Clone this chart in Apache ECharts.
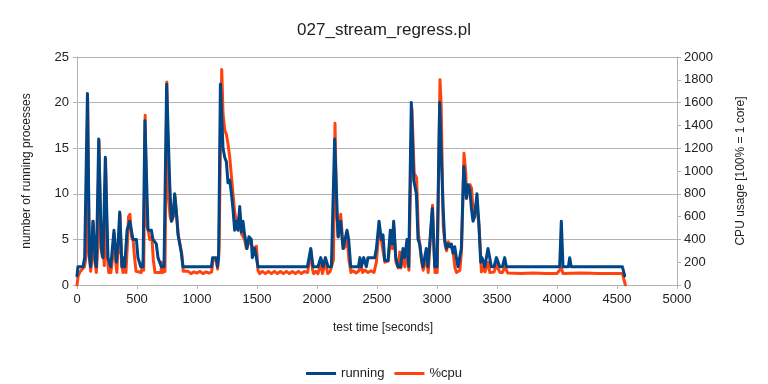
<!DOCTYPE html>
<html>
<head>
<meta charset="utf-8">
<script src="https://cdn.jsdelivr.net/npm/echarts@6/dist/echarts.min.js"></script>
<style>html,body{margin:0;padding:0;background:#fff;}#c{width:768px;height:384px;}</style>
</head>
<body>
<div id="c"></div>
<script>
// ---- data ----
const chartTitle = '027_stream_regress.pl';
const seriesNames = ['running', '%cpu'];
const xTicks = [0, 500, 1000, 1500, 2000, 2500, 3000, 3500, 4000, 4500, 5000];
const leftTicks = [0, 5, 10, 15, 20, 25];
const rightTicks = [0, 200, 400, 600, 800, 1000, 1200, 1400, 1600, 1800, 2000];

// running processes: time [s] and value
const runTime = [0, 8, 50, 64, 87, 104, 114, 133, 153, 161, 181, 203, 217, 236, 258, 281, 308, 328, 342, 356, 375, 383, 397, 417, 439, 467, 495, 508, 531, 550, 566, 592, 620, 633, 661, 675, 703, 725, 747, 773, 786, 800, 814, 828, 842, 856, 870, 883,
  1120, 1130, 1160, 1170, 1180, 1195, 1217, 1231, 1245, 1258, 1273, 1287, 1300, 1314, 1328, 1342, 1356, 1370, 1383, 1397, 1417, 1433, 1453, 1461, 1481, 1495, 1508,
  1920, 1948, 1967, 2008, 2031, 2050, 2070, 2092, 2120, 2147, 2175, 2197, 2217, 2231, 2250, 2264, 2281, 2345, 2358, 2370, 2389, 2411, 2425, 2481, 2495, 2517, 2536, 2550, 2564, 2592, 2611, 2628, 2639, 2656, 2675, 2695, 2717, 2731, 2750, 2764, 2786, 2806, 2828, 2842, 2856, 2870, 2883, 2897, 2911, 2925, 2939, 2961, 2981, 3000, 3022, 3050, 3064, 3078, 3092, 3106, 3120, 3133, 3148, 3161, 3175, 3189, 3203, 3223, 3245, 3258, 3273, 3286, 3300, 3314, 3333, 3348, 3364, 3375, 3398, 3425, 3453, 3475, 3495, 3508, 3523, 3545, 3564, 3578,
  4022, 4036, 4050, 4095, 4106, 4118, 4545, 4564];
const runValues = [1, 2, 2, 3, 21, 3, 2, 7, 2.5, 2, 16, 4, 3, 14, 3, 2, 6, 2.5, 4.5, 8, 2, 3, 2, 6, 7, 5, 5, 3, 2, 2, 18, 6, 6, 5, 4.5, 3, 2, 2, 22, 11, 7, 7.5, 10, 8, 5.5, 4.5, 3.5, 2,
  2, 3, 3, 2, 3, 22, 15, 14, 13.5, 11.2, 11.5, 10, 8.3, 6, 7, 6, 8.6, 5.8, 7, 5.5, 4, 5.3, 5, 3, 4, 3, 2,
  2, 4, 2, 2, 3, 2, 3, 2, 2, 16, 5.3, 7, 4, 4, 6, 5, 2, 2, 3, 2, 3, 2, 3, 3, 4, 7, 5, 5.5, 2.7, 2.7, 6, 4.5, 7, 3, 2, 2, 4, 3, 5, 2, 20, 11.5, 10, 5, 4.5, 3, 2, 3, 4, 2, 2, 8.4, 2, 2, 20, 8.6, 5, 4, 4.5, 4.2, 4.5, 3.5, 4.2, 3, 2, 2, 4, 13, 9.5, 11, 10.5, 8.5, 7, 7.5, 10, 7, 2.5, 3, 2, 4, 2, 2, 3, 3, 2, 2, 3, 2,
  2, 7, 2, 2, 3, 2, 2, 1];

// CPU usage [%]: time [s] and value
const cpuTime = [0, 10, 25, 45, 62, 76, 89, 100, 114, 124, 135, 150, 161, 172, 183, 200, 210, 218, 228, 238, 252, 264, 282, 298, 310, 324, 332, 342, 350, 358, 372, 384, 398, 408, 420, 430, 441, 455, 467, 480, 492, 535, 548, 556, 568, 582, 594, 606, 624, 636, 650, 700, 706, 714, 733, 749, 762, 776, 790, 802, 816, 830, 844, 858, 872, 886,
  900, 925, 950, 975, 1000, 1025, 1050, 1075, 1100, 1122, 1134, 1162, 1172, 1184, 1194, 1206, 1217, 1231, 1245, 1258, 1273, 1287, 1300, 1314, 1328, 1342, 1356, 1370, 1383, 1397, 1411, 1425, 1439, 1453, 1467, 1481, 1495, 1508, 1522,
  1545, 1570, 1595, 1620, 1645, 1670, 1695, 1720, 1745, 1770, 1795, 1820, 1845, 1870, 1895, 1922, 1935, 1950, 1962, 1972, 1990, 2008, 2031, 2045, 2070, 2090, 2110, 2125, 2137, 2150, 2163, 2178, 2198, 2212, 2222, 2237, 2252, 2266, 2283,
  2300, 2325, 2350, 2365, 2380, 2400, 2425, 2450, 2475, 2495, 2517, 2538, 2552, 2566, 2594, 2613, 2628, 2641, 2658, 2677, 2690, 2700, 2719, 2733, 2752, 2766, 2791, 2810, 2830, 2845, 2858, 2872, 2885, 2899, 2913, 2927, 2941, 2963, 2983, 3002, 3025, 3035, 3052, 3066, 3080, 3094, 3108, 3122, 3135, 3150, 3163, 3177, 3191, 3205, 3225, 3240, 3247, 3260, 3275, 3288, 3302, 3316, 3335, 3350, 3362, 3370, 3378, 3400, 3427, 3440, 3475, 3497, 3510, 3525, 3545, 3566, 3590,
  3700, 3800, 3900, 4000, 4036, 4050, 4200, 4350, 4545, 4570];
const cpuValues = [0, 80, 115, 140, 160, 250, 1640, 300, 120, 230, 560, 200, 110, 300, 1270, 330, 250, 300, 170, 1110, 260, 110, 110, 250, 450, 190, 110, 330, 280, 620, 170, 110, 190, 110, 360, 600, 620, 420, 400, 240, 120, 110, 200, 130, 1490, 520, 480, 400, 420, 220, 110, 110, 200, 110, 120, 1780, 780, 600, 560, 600, 780, 620, 440, 360, 280, 120,
  110, 120, 100, 115, 105, 120, 100, 115, 105, 115, 220, 220, 140, 320, 1100, 1890, 1500, 1360, 1320, 1240, 1120, 950, 800, 640, 560, 520, 640, 450, 440, 400, 320, 360, 380, 350, 320, 330, 340, 130, 100,
  120, 100, 120, 100, 120, 100, 118, 100, 120, 100, 118, 100, 120, 100, 118, 110, 200, 300, 140, 100, 120, 100, 190, 100, 200, 100, 120, 110, 220, 1418, 650, 420, 620, 400, 320, 340, 430, 220, 110,
  125, 105, 125, 190, 110, 130, 110, 125, 110, 200, 500, 380, 370, 200, 210, 430, 320, 510, 200, 150, 290, 150, 250, 160, 320, 130, 1550, 980, 940, 450, 340, 200, 130, 130, 230, 110, 110, 700, 110, 110, 1800, 1560, 520, 360, 300, 380, 380, 330, 280, 150, 110, 110, 130, 320, 1155, 980, 760, 860, 880, 850, 620, 700, 660, 520, 300, 115, 160, 115, 200, 110, 115, 180, 140, 110, 110, 160, 105,
  100, 105, 100, 100, 150, 100, 105, 100, 100, 0];

const zip = (a, b) => a.map((t, i) => [t, b[i]]);
const plain = v => String(v);

const font = 'Liberation Sans, Arial, sans-serif';
const grey = '#b3b3b3';
const txt = '#222';

const chart = echarts.init(document.getElementById('c'), null, {renderer: 'canvas'});
chart.setOption({
  animation: false,
  backgroundColor: '#fff',
  textStyle: {fontFamily: font},
  title: {
    text: chartTitle, left: 'center', top: 17,
    textStyle: {fontFamily: font, fontSize: 17, fontWeight: 'normal', color: txt}
  },
  legend: {
    data: seriesNames, left: 'center', top: 362,
    icon: 'rect', itemWidth: 30, itemHeight: 3, itemGap: 10,
    textStyle: {fontFamily: font, fontSize: 13, color: txt}
  },
  grid: {left: 77, right: 91, top: 57, bottom: 99},
  xAxis: {
    type: 'value', min: xTicks[0], max: xTicks[xTicks.length - 1], interval: xTicks[1] - xTicks[0],
    name: 'test time [seconds]', nameLocation: 'middle', nameGap: 37,
    nameTextStyle: {fontFamily: font, fontSize: 12, color: txt, padding: [0, 0, 0, 12]},
    axisLine: {show: true, lineStyle: {color: grey}},
    axisTick: {show: true, length: 4, lineStyle: {color: grey}},
    axisLabel: {fontFamily: font, fontSize: 13, color: txt, margin: 8, formatter: plain},
    splitLine: {show: false}
  },
  yAxis: [
    {
      type: 'value', position: 'left', min: leftTicks[0], max: leftTicks[leftTicks.length - 1], interval: leftTicks[1] - leftTicks[0],
      name: 'number of running processes', nameLocation: 'middle', nameGap: 44, nameRotate: 90,
      nameTextStyle: {fontFamily: font, fontSize: 12, color: txt},
      axisLine: {show: true, lineStyle: {color: grey}},
      axisTick: {show: true, length: 4, lineStyle: {color: grey}},
      axisLabel: {fontFamily: font, fontSize: 13, color: txt, margin: 8, formatter: plain},
      splitLine: {show: true, lineStyle: {color: grey, width: 1}}
    },
    {
      type: 'value', position: 'right', min: rightTicks[0], max: rightTicks[rightTicks.length - 1], interval: rightTicks[1] - rightTicks[0],
      name: 'CPU usage [100% = 1 core]', nameLocation: 'middle', nameGap: 58, nameRotate: 90,
      nameTextStyle: {fontFamily: font, fontSize: 12, color: txt},
      axisLine: {show: true, lineStyle: {color: grey}},
      axisTick: {show: true, length: 4, lineStyle: {color: grey}},
      axisLabel: {fontFamily: font, fontSize: 13, color: txt, margin: 7, formatter: plain},
      splitLine: {show: false}
    }
  ],
  series: [
    {
      name: seriesNames[0], type: 'line', yAxisIndex: 0, data: zip(runTime, runValues),
      symbol: 'none', z: 4,
      lineStyle: {width: 3, color: '#004586', join: 'round', cap: 'round'},
      itemStyle: {color: '#004586'}
    },
    {
      name: seriesNames[1], type: 'line', yAxisIndex: 1, data: zip(cpuTime, cpuValues),
      symbol: 'none', z: 3,
      lineStyle: {width: 3, color: '#ff420e', join: 'round', cap: 'round'},
      itemStyle: {color: '#ff420e'}
    }
  ]
});
</script>
</body>
</html>
